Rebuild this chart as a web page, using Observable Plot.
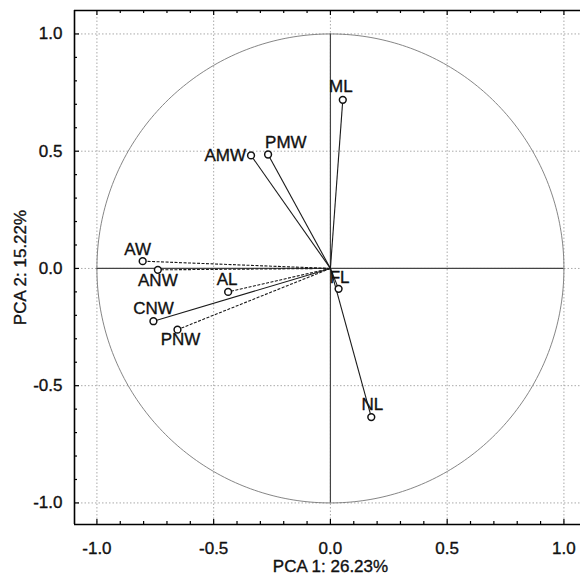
<!DOCTYPE html>
<html><head><meta charset="utf-8">
<script src="https://cdn.jsdelivr.net/npm/d3@7"></script>
<script src="https://cdn.jsdelivr.net/npm/@observablehq/plot@0.6"></script>
<style>body{margin:0;background:#fff;}</style>
</head><body><div id="chart"></div>
<script>
// ---- data ----
const variables = ["ML", "PMW", "AMW", "AW", "ANW", "AL", "CNW", "PNW", "FL", "NL"];
const pc1 = [0.053, -0.267, -0.340, -0.804, -0.739, -0.438, -0.758, -0.655, 0.035, 0.175];
const pc2 = [0.719, 0.486, 0.482, 0.031, -0.006, -0.100, -0.225, -0.261, -0.087, -0.634];
const majorTicks = [-1.0, -0.5, 0.0, 0.5, 1.0];
const tickLabels = ["-1.0", "-0.5", "0.0", "0.5", "1.0"];
const xTitle = "PCA 1: 26.23%";
const yTitle = "PCA 2: 15.22%";

// ---- layout ----
const W = 580, H = 575, mL = 74, mR = 0, mT = 10, mB = 51;
const xDom = [-1.096, 1.071], yDom = [-1.092, 1.100];
const kx = (W - mL - mR) / (xDom[1] - xDom[0]);
const ky = (H - mT - mB) / (yDom[1] - yDom[0]);
const minorTicks = d3.range(-10, 11).map(i => i / 10);

const data = variables.map((name, i) => ({name, pc1: pc1[i], pc2: pc2[i]}));
const dashedSet = new Set(["AW", "ANW", "AL", "PNW"]);
const labelPlace = {
  ML: {dx: -2, dy: -13}, PMW: {dx: -3, dy: -12, textAnchor: "start"},
  AMW: {dx: -5, dy: 0, textAnchor: "end"}, AW: {dx: -5, dy: -12},
  ANW: {dx: 0, dy: 11}, AL: {dx: -1, dy: -12}, CNW: {dx: 0, dy: -13},
  PNW: {dx: 3, dy: 10}, FL: {dx: 1, dy: -11}, NL: {dx: 1, dy: -13}
};
const circle = d3.range(0, 361).map(a => ({cx: Math.cos(a * Math.PI / 180), cy: Math.sin(a * Math.PI / 180)}));
const fmt = d => tickLabels[majorTicks.indexOf(d)];
const tickLen = d => (majorTicks.includes(d) ? 5 : 3);
const txt = {fontSize: 17, fill: "#111", stroke: "#111", strokeWidth: 0.35};

const marks = [
  // dotted grid
  Plot.ruleX(majorTicks, {stroke: "#aaa", strokeWidth: 1, strokeDasharray: "1.5,2"}),
  Plot.ruleY(majorTicks, {stroke: "#aaa", strokeWidth: 1, strokeDasharray: "1.5,2"}),
  // unit circle
  Plot.line(circle, {x: "cx", y: "cy", stroke: "#777", strokeWidth: 0.9}),
  // axes through origin
  Plot.ruleY([0], {x1: -1, x2: 1, stroke: "#444", strokeWidth: 1.2}),
  Plot.ruleX([0], {y1: -1, y2: 1, stroke: "#444", strokeWidth: 1.2}),
  // loading vectors
  Plot.link(data.filter(d => !dashedSet.has(d.name)), {x1: 0, y1: 0, x2: "pc1", y2: "pc2", stroke: "#1a1a1a", strokeWidth: 1.1}),
  Plot.link(data.filter(d => dashedSet.has(d.name)), {x1: 0, y1: 0, x2: "pc1", y2: "pc2", stroke: "#1a1a1a", strokeWidth: 1.1, strokeDasharray: "3,1.5"}),
  Plot.dot(data, {x: "pc1", y: "pc2", r: 3.4, stroke: "#111", fill: "white", strokeWidth: 1.5}),
  ...variables.map(v => Plot.text(data.filter(d => d.name === v), {
    x: "pc1", y: "pc2", text: "name", textAnchor: "middle", ...txt, ...labelPlace[v]
  })),
  // frame (left, top, bottom)
  Plot.ruleX([xDom[0]], {stroke: "#000", strokeWidth: 1.6}),
  Plot.ruleY([yDom[0], yDom[1]], {stroke: "#000", strokeWidth: 1.6}),
  // inward ticks
  Plot.ruleX(minorTicks, {x: d => d, y1: yDom[0], y2: d => yDom[0] + tickLen(d) / ky, stroke: "#000", strokeWidth: 1.2}),
  Plot.ruleX(minorTicks, {x: d => d, y1: yDom[1], y2: d => yDom[1] - tickLen(d) / ky, stroke: "#000", strokeWidth: 1.2}),
  Plot.ruleY(minorTicks, {y: d => d, x1: xDom[0], x2: d => xDom[0] + tickLen(d) / kx, stroke: "#000", strokeWidth: 1.2}),
  // tick labels
  Plot.text(majorTicks, {x: d => d, frameAnchor: "bottom", lineAnchor: "middle", dy: 24, text: fmt, ...txt}),
  Plot.text(majorTicks, {y: d => d, frameAnchor: "left", textAnchor: "end", dx: -12, text: fmt, ...txt}),
  // titles
  Plot.text([xTitle], {frameAnchor: "bottom", lineAnchor: "middle", textAnchor: "middle", dx: 3, dy: 42, ...txt}),
  Plot.text([yTitle], {frameAnchor: "left", textAnchor: "middle", lineAnchor: "middle", dx: -54, rotate: -90, ...txt})
];

const chart = Plot.plot({
  width: W, height: H,
  marginLeft: mL, marginRight: mR, marginTop: mT, marginBottom: mB,
  x: {domain: xDom, axis: null},
  y: {domain: yDom, axis: null},
  style: {fontFamily: "'Liberation Sans', Arial, sans-serif", fontSize: "17px", color: "#111", background: "#fff", overflow: "hidden"},
  marks
});
document.getElementById("chart").appendChild(chart);
</script>
</body></html>
